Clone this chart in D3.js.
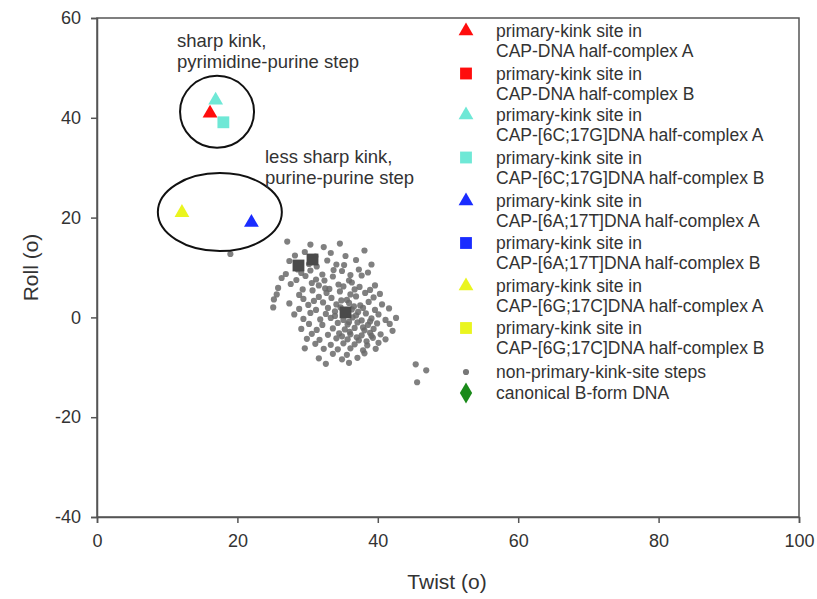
<!DOCTYPE html>
<html>
<head>
<meta charset="utf-8">
<script src="https://cdn.jsdelivr.net/npm/d3@7"></script>
<style>
  body { margin: 0; background: #fff; }
  svg { font-family: "Liberation Sans", Arial, sans-serif; }
</style>
</head>
<body>
<div id="chart"></div>
<script>
// non-primary-kink-site steps [twist, roll]
var otherSteps = [
  [27.1, 15.2], [30.4, 14.6], [32.3, 14.1], [34.6, 14.8],
  [28.2, 12.4], [29.6, 13.1], [31.1, 12.2], [33.3, 12.9], [35.4, 12.3], [38.1, 13.4],
  [27.4, 11.3], [30.2, 10.7], [32.8, 11.4], [34.1, 10.6], [36.9, 11.5],
  [28.6, 9.6], [31.3, 10.2], [33.7, 9.5], [35.2, 10.5], [37.3, 9.6], [39.1, 10.6],
  [26.9, 8.7], [29.1, 8.9], [30.4, 9.4], [32.1, 8.6], [34.9, 9.3], [36.1, 8.5], [38.6, 9.0],
  [26.3, 7.9], [28.4, 7.5], [29.7, 8.3], [31.2, 7.6], [33.6, 8.2], [35.9, 7.4], [37.7, 8.4],
  [27.6, 6.7], [30.6, 6.9], [32.4, 7.4], [34.4, 6.6], [36.3, 7.0], [39.6, 6.4],
  [25.8, 5.9], [29.3, 5.6], [31.6, 6.4], [33.1, 5.7], [35.1, 6.2], [37.4, 6.1], [38.9, 5.5],
  [25.6, 4.6], [28.8, 4.5], [30.7, 5.4], [32.7, 4.9], [34.6, 5.2], [36.1, 4.6], [38.2, 4.9], [40.3, 4.7],
  [25.2, 3.6], [29.4, 3.7], [31.6, 4.1], [33.4, 3.9], [35.6, 3.5], [36.9, 4.2], [39.4, 4.0],
  [27.4, 2.8], [30.1, 2.5], [32.2, 3.0], [34.1, 2.6], [35.9, 2.9], [37.5, 2.4], [38.7, 3.1], [40.6, 2.6],
  [25.1, 2.0], [28.8, 1.7], [31.2, 1.5], [32.9, 1.9], [34.7, 2.0], [36.3, 1.6], [37.9, 1.9], [39.6, 1.5], [41.6, 1.8],
  [28.1, 0.6], [30.4, 0.9], [32.6, 0.7], [33.9, 1.2], [35.6, 0.9], [36.9, 0.4], [38.3, 0.8], [40.1, 0.6],
  [29.4, -0.3], [31.8, -0.4], [33.3, -0.1], [35.1, -0.5], [36.4, 0.0], [37.7, -0.6], [39.1, -0.2], [41.1, -0.5], [42.6, -0.1],
  [30.2, -1.3], [32.1, -1.5], [34.3, -1.1], [35.7, -1.4], [37.1, -1.0], [38.6, -1.5], [39.9, -1.2], [41.7, -1.3],
  [29.1, -2.3], [31.3, -2.5], [33.6, -2.2], [35.3, -2.4], [36.7, -2.1], [38.1, -2.6], [39.4, -2.3], [42.1, -2.7],
  [30.6, -3.3], [32.9, -3.5], [34.5, -3.2], [36.1, -3.4], [37.7, -3.6], [38.9, -3.1], [40.4, -3.4],
  [29.9, -4.3], [31.7, -4.5], [34.1, -4.2], [35.7, -4.4], [37.3, -4.6], [39.3, -4.1], [41.1, -4.4],
  [31.1, -5.3], [33.3, -5.5], [35.1, -5.2], [36.7, -5.4], [38.5, -5.6], [40.1, -5.1],
  [29.6, -6.2], [32.3, -6.3], [34.3, -6.4], [36.1, -6.2], [37.9, -6.6], [39.7, -6.3],
  [33.6, -7.3], [35.6, -7.5], [38.1, -7.2],
  [31.6, -8.2], [34.9, -8.4], [37.1, -8.1],
  [32.6, -9.3], [35.9, -9.1],
  [34.8, 3.4], [36.6, 2.2], [37.2, 1.1], [35.9, -0.9], [37.9, -2.0], [38.9, -0.8],
  [33.9, 0.3], [36.0, -2.9], [37.0, -4.0], [38.4, -4.8], [39.1, -3.7], [34.9, -3.8],
  [30.9, 3.3], [32.5, 5.8], [36.7, 5.6],
  [19.0, 12.7], [45.4, -9.4], [46.9, -10.6], [45.6, -13.0]
];

// dark squares inside the cluster [twist, roll]
var darkSquares = [[28.7, 10.4], [30.7, 11.6], [35.4, 1.0]];

// primary-kink sites [twist, roll]
var capA = [[16.1, 40.9]];
var capB = [];
var c6c17gA = [[16.9, 43.5]];
var c6c17gB = [[18.0, 39.1]];
var c6a17tA = [[22.0, 19.0]];
var c6a17tB = [];
var c6g17cA = [[12.1, 21.0]];
var c6g17cB = [];
var canonical = [];

var xTicks = [0, 20, 40, 60, 80, 100];
var yTicks = [-40, -20, 0, 20, 40, 60];

var series = [
  {label: ["primary-kink site in", "CAP-DNA half-complex A"], shape: "tri", color: "#ff0d0d", data: capA},
  {label: ["primary-kink site in", "CAP-DNA half-complex B"], shape: "sq", color: "#ff0d0d", data: capB},
  {label: ["primary-kink site in", "CAP-[6C;17G]DNA half-complex A"], shape: "tri", color: "#6fe8d6", data: c6c17gA},
  {label: ["primary-kink site in", "CAP-[6C;17G]DNA half-complex B"], shape: "sq", color: "#6fe8d6", data: c6c17gB},
  {label: ["primary-kink site in", "CAP-[6A;17T]DNA half-complex A"], shape: "tri", color: "#1a2cff", data: c6a17tA},
  {label: ["primary-kink site in", "CAP-[6A;17T]DNA half-complex B"], shape: "sq", color: "#1a2cff", data: c6a17tB},
  {label: ["primary-kink site in", "CAP-[6G;17C]DNA half-complex A"], shape: "tri", color: "#eaf51e", data: c6g17cA},
  {label: ["primary-kink site in", "CAP-[6G;17C]DNA half-complex B"], shape: "sq", color: "#eaf51e", data: c6g17cB},
  {label: ["non-primary-kink-site steps"], shape: "dot", color: "#777", data: []},
  {label: ["canonical B-form DNA"], shape: "dia", color: "#1a8a1a", data: canonical}
];

var width = 817, height = 599;
var margin = {top: 18, right: 18, bottom: 82, left: 97};

var svg = d3.select("#chart").append("svg")
  .attr("width", width)
  .attr("height", height);

var x = d3.scaleLinear().domain([0, 100]).range([margin.left, width - margin.right]);
var y = d3.scaleLinear().domain([-40, 60]).range([height - margin.bottom, margin.top]);

var axisColor = "#555";

// frame
svg.append("rect")
  .attr("x", x(0)).attr("y", y(60))
  .attr("width", x(100) - x(0)).attr("height", y(-40) - y(60))
  .attr("fill", "none").attr("stroke", axisColor).attr("stroke-width", 1.5);

var gx = svg.append("g")
  .attr("transform", "translate(0," + y(-40) + ")")
  .call(d3.axisBottom(x).tickValues(xTicks).tickSize(6).tickPadding(11).tickFormat(d => String(d)));
var gy = svg.append("g")
  .attr("transform", "translate(" + x(0) + ",0)")
  .call(d3.axisLeft(y).tickValues(yTicks).tickSize(6).tickPadding(10).tickFormat(d => String(d)));
[gx, gy].forEach(function(g) {
  g.select(".domain").attr("stroke", axisColor).attr("stroke-width", 1.5);
  g.selectAll(".tick line").attr("stroke", axisColor).attr("stroke-width", 1.5);
  g.selectAll(".tick text").attr("fill", "#333").style("font-size", "18px")
    .style("font-family", "'Liberation Sans', Arial, sans-serif");
});

// axis titles
svg.append("text")
  .attr("x", (x(0) + x(100)) / 2 - 1).attr("y", 589)
  .attr("text-anchor", "middle").attr("fill", "#333")
  .style("font-size", "21px").text("Twist (o)");
svg.append("text")
  .attr("transform", "translate(38," + y(10) + ") rotate(-90)")
  .attr("text-anchor", "middle").attr("fill", "#333")
  .style("font-size", "21px").text("Roll (o)");

function symbolPath(shape) {
  if (shape == "tri") return d3.symbol().type(d3.symbolTriangle).size(95)();
  if (shape == "sq") return d3.symbol().type(d3.symbolSquare).size(140)();
  if (shape == "dia") return d3.symbol().type(d3.symbolDiamond).size(130)();
  return d3.symbol().type(d3.symbolCircle).size(30)();
}

// gray steps
svg.append("g").selectAll("path")
  .data(otherSteps)
  .enter().append("path")
  .attr("d", symbolPath("dot"))
  .attr("transform", d => "translate(" + x(d[0]) + "," + y(d[1]) + ")")
  .attr("fill", "#6a6a6a")
  .attr("opacity", 0.85);

svg.append("g").selectAll("path")
  .data(darkSquares)
  .enter().append("path")
  .attr("d", symbolPath("sq"))
  .attr("transform", d => "translate(" + x(d[0]) + "," + y(d[1]) + ")")
  .attr("fill", "#4a4a4a");

// primary-kink sites
series.forEach(function(s) {
  svg.append("g").selectAll("path")
    .data(s.data)
    .enter().append("path")
    .attr("d", symbolPath(s.shape))
    .attr("transform", d => "translate(" + x(d[0]) + "," + y(d[1]) + ")")
    .attr("fill", s.color);
});

// circles around groups
svg.append("ellipse")
  .attr("cx", x(17.1)).attr("cy", y(41.2))
  .attr("rx", 37).attr("ry", 36)
  .attr("fill", "none").attr("stroke", "#111").attr("stroke-width", 2);
svg.append("ellipse")
  .attr("cx", x(17.5)).attr("cy", y(21.1))
  .attr("rx", 62).attr("ry", 39)
  .attr("fill", "none").attr("stroke", "#111").attr("stroke-width", 2);

// annotations
var notes = [
  {x: 177, y: 47, lines: ["sharp kink,", "pyrimidine-purine step"]},
  {x: 265, y: 163, lines: ["less sharp kink,", "purine-purine step"]}
];
notes.forEach(function(n) {
  var t = svg.append("text").attr("fill", "#333").style("font-size", "18.5px");
  n.lines.forEach(function(l, i) {
    t.append("tspan").attr("x", n.x).attr("y", n.y + i * 20.5).text(l);
  });
});

// legend
var legend = svg.append("g");
var ly = [31, 73.5, 115, 157.5, 201, 243, 286, 328, 372, 393];
series.forEach(function(s, i) {
  var g = legend.append("g").attr("transform", "translate(0," + ly[i] + ")");
  g.append("path")
    .attr("d", symbolPath(s.shape))
    .attr("transform", "translate(466,0)")
    .attr("fill", s.color);
  s.label.forEach(function(l, j) {
    g.append("text")
      .attr("x", 496).attr("y", j * 20)
      .attr("dy", "0.35em")
      .attr("fill", "#333")
      .style("font-size", "17.5px")
      .text(l);
  });
});
</script>
</body>
</html>
